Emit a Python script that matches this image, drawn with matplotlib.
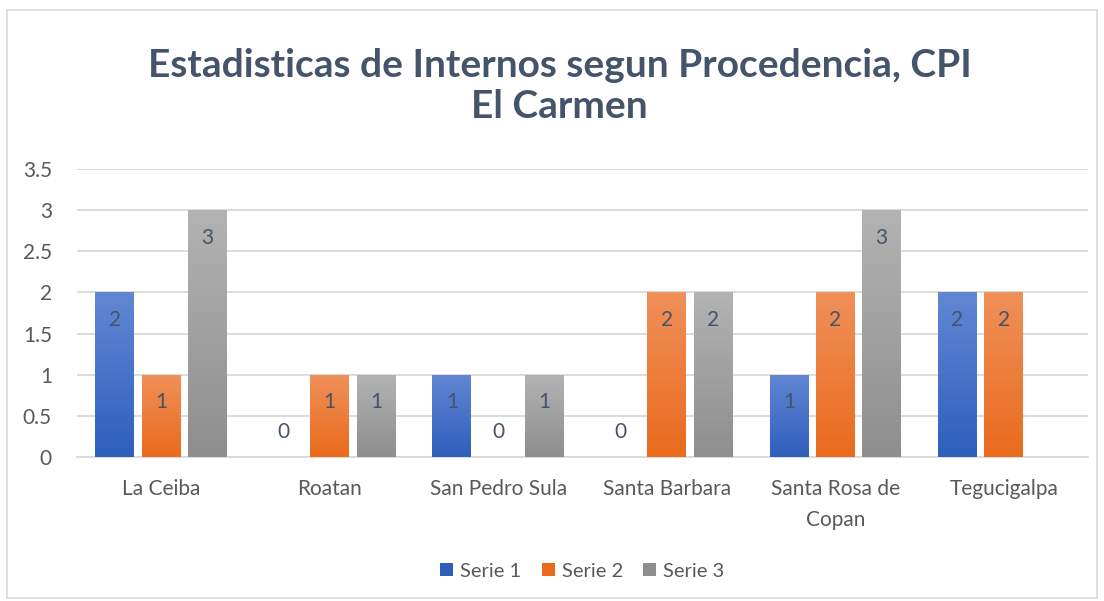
import numpy as np
import matplotlib
matplotlib.use("Agg")
from matplotlib import pyplot as plt
from matplotlib.colors import LinearSegmentedColormap
from matplotlib.patches import Rectangle

plt.rcParams['font.family'] = ['Lato', 'DejaVu Sans']

categorias = ['La Ceiba', 'Roatan', 'San Pedro Sula', 'Santa Barbara',
              'Santa Rosa de\nCopan', 'Tegucigalpa']
serie1 = [2, 0, 1, 0, 1, 2]
serie2 = [1, 1, 0, 2, 2, 2]
serie3 = [3, 1, 1, 2, 3, np.nan]
series = [serie1, serie2, serie3]
nombres = ['Serie 1', 'Serie 2', 'Serie 3']

# gradient colours (top, bottom)
grad = [('#6287d4', '#2e5fbc'), ('#f0905a', '#e96b1c'), ('#b3b3b3', '#8e8e8e')]
texto = '#44546a'

fig = plt.figure(figsize=(11.04, 6.01), dpi=100)
fig.patches.append(Rectangle((0.006, 0.005), 0.988, 0.978, transform=fig.transFigure,
                             fill=False, edgecolor='#d9d9d9', linewidth=1.2))
ax = fig.add_axes([0.0697, 0.2396, 0.9158, 0.4792])
ax.set_xlim(-0.5, 5.5)
ax.set_ylim(0, 3.5)

x = np.arange(len(categorias))
ancho = 0.23
paso = 0.275
grad_img = np.linspace(0, 1, 256).reshape(-1, 1)

for i, (vals, nombre, (c_top, c_bot)) in enumerate(zip(series, nombres, grad)):
    pos = x + (i - 1) * paso
    cmap = LinearSegmentedColormap.from_list('g%d' % i, [c_bot, c_top])
    bars = ax.bar(pos, np.nan_to_num(vals), ancho, color=c_bot, label=nombre,
                  edgecolor='none', zorder=2)
    for b, v in zip(bars, vals):
        if np.isnan(v):
            continue
        if v > 0:
            im = ax.imshow(grad_img, cmap=cmap, aspect='auto', origin='lower',
                           extent=[b.get_x(), b.get_x() + b.get_width(), 0, v], zorder=3)
            im.set_clip_path(b)
            ax.annotate('%d' % v, (b.get_x() + b.get_width() / 2, v), xytext=(0, -20),
                        textcoords='offset points', ha='center', va='center',
                        fontsize=15, color=texto, zorder=4)
        else:
            ax.annotate('0', (b.get_x() + b.get_width() / 2, 0), xytext=(0, 18),
                        textcoords='offset points', ha='center', va='center',
                        fontsize=15, color=texto, zorder=4)

ax.set_xlim(-0.5, 5.5)
ax.set_ylim(0, 3.5)
ax.set_yticks(np.arange(0, 3.51, 0.5))
ax.set_yticklabels(['0', '0.5', '1', '1.5', '2', '2.5', '3', '3.5'])
ax.set_xticks(x)
ax.set_xticklabels(categorias, linespacing=1.7)
ax.grid(axis='y', color='#d9d9d9', linewidth=1.3, zorder=0)
ax.set_axisbelow(True)
for s in ['top', 'right', 'left']:
    ax.spines[s].set_visible(False)
ax.spines['bottom'].set_color('#d9d9d9')
ax.spines['bottom'].set_linewidth(1.3)
ax.tick_params(axis='both', length=0, labelsize=15, labelcolor='#595959')
ax.tick_params(axis='y', pad=18)
ax.tick_params(axis='x', pad=16)

fig.text(0.507, 0.857, 'Estadisticas de Internos segun Procedencia, CPI\nEl Carmen',
         ha='center', va='center', fontsize=28, fontweight='bold', color=texto,
         linespacing=1.2)

ax.legend(loc='center', bbox_to_anchor=(0.5, -0.396), ncol=3, frameon=False,
          fontsize=14.5, handlelength=0.65, handleheight=0.65, columnspacing=1.0,
          handletextpad=0.35, labelcolor='#595959')

fig.savefig('out.png', dpi=100)
